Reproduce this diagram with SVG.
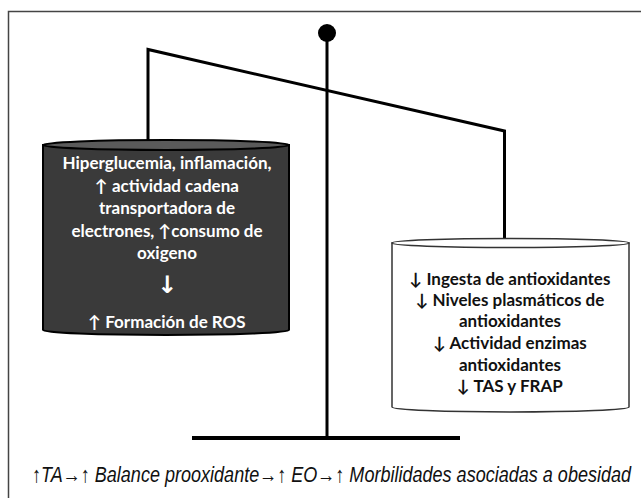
<svg xmlns="http://www.w3.org/2000/svg" width="641" height="498" viewBox="0 0 641 498">
<style>
.frame{fill:none;stroke:#444;stroke-width:1.5}
.bar{fill:none;stroke:#000;stroke-width:3;stroke-linejoin:miter}
.lt{font-family:Lato,"Open Sans","Liberation Sans",sans-serif;font-weight:bold;font-size:17px;fill:#fff;text-anchor:middle}
.rt{font-family:Lato,"Open Sans","Liberation Sans",sans-serif;font-weight:bold;font-size:17px;fill:#111;text-anchor:middle}
.cap{font-family:"Liberation Sans",Arial,sans-serif;font-style:italic;font-size:22px;fill:#111}
</style>
<rect x="0" y="0" width="641" height="498" fill="#fff"/>
<path class="frame" d="M8.5,498 V11.5 H641"/>
<g id="connectors">
<path class="bar" d="M148,141 V49.5 L504.5,131 V241"/>
<line class="bar" x1="327" y1="33" x2="327" y2="438"/>
<line x1="192" y1="438" x2="460" y2="438" stroke="#000" stroke-width="4"/>
<circle cx="327" cy="33" r="9" fill="#000"/>
</g>
<g id="left-pan">
<path d="M43,145 V330 A123,5 0 0 0 289,330 V145 Z" fill="#3a3a3a" stroke="#000" stroke-width="2"/>
<ellipse cx="166" cy="145" rx="123" ry="5" fill="#5a5a5a" stroke="#000" stroke-width="2"/>
<text class="lt" x="167" y="169">Hiperglucemia, inflamación,</text>
<text class="lt" x="167" y="192">↑ actividad cadena</text>
<text class="lt" x="167" y="214">transportadora de</text>
<text class="lt" x="167" y="237">electrones,  ↑consumo de</text>
<text class="lt" x="167" y="259">oxigeno</text>
<text class="lt" x="167" y="293" style="font-size:24px;font-family:'DejaVu Sans',sans-serif">↓</text>
<text class="lt" x="167" y="328">↑ Formación de ROS</text>
</g>
<g id="right-pan">
<path d="M392,243 V407 A118.5,5 0 0 0 629,407 V243 Z" fill="#fff" stroke="#333" stroke-width="1.5"/>
<ellipse cx="510.5" cy="243" rx="118.5" ry="4.5" fill="#fff" stroke="#333" stroke-width="1.5"/>
<text class="rt" x="510" y="285">↓ Ingesta de antioxidantes</text>
<text class="rt" x="510" y="306">↓ Niveles plasmáticos de</text>
<text class="rt" x="510" y="327">antioxidantes</text>
<text class="rt" x="510" y="349">↓ Actividad enzimas</text>
<text class="rt" x="510" y="371">antioxidantes</text>
<text class="rt" x="510" y="392">↓ TAS y FRAP</text>
</g>
<g id="caption">
<text class="cap" transform="translate(32,482) scale(0.82,1)" x="0" y="0">↑TA→↑ Balance prooxidante→↑ EO→↑ Morbilidades asociadas a obesidad</text>
</g>
</svg>
